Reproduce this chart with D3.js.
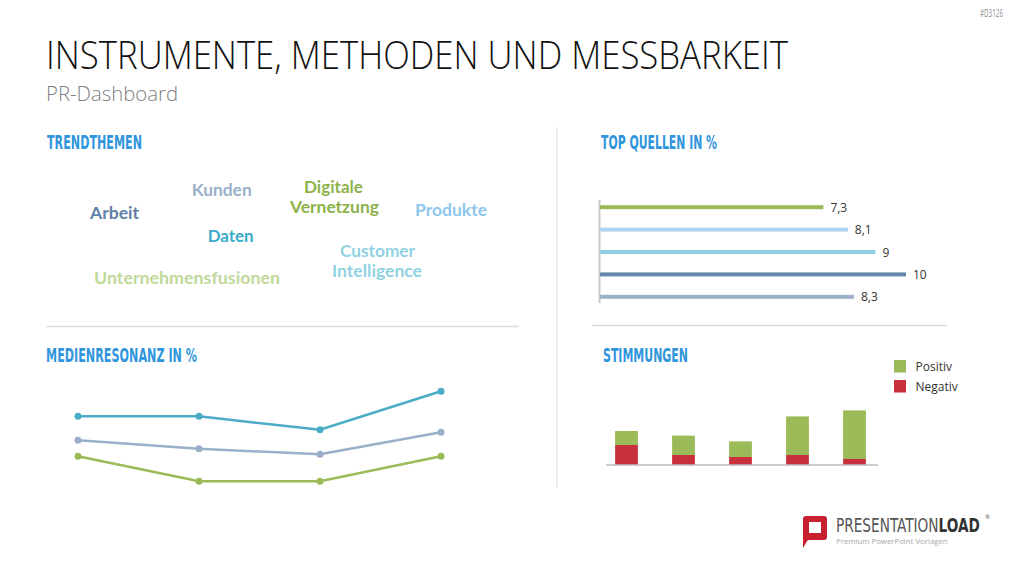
<!DOCTYPE html>
<html><head><meta charset="utf-8">
<script src="https://cdn.jsdelivr.net/npm/d3@7"></script>
<style>html,body{margin:0;padding:0;background:#fff;}svg{display:block;}</style>
</head><body>
<svg id="c" width="1024" height="576"></svg>
<script>
// ---- data ----
const trendWords = ["Kunden","Digitale","Vernetzung","Arbeit","Produkte","Daten","Customer","Intelligence","Unternehmensfusionen"];
const trendColors = ["#9aafc9","#8db24a","#8db24a","#5f7fa6","#8ec6ec","#3aaacb","#8fd2e2","#8fd2e2","#bfd89b"];
const sourceValues = [7.3, 8.1, 9, 10, 8.3];
const sourceLabels = ["7,3","8,1","9","10","8,3"];
const sourceColors = ["#9bbb59","#acd4f1","#8ed0df","#6585aa","#9eafc8"];
const lineCategories = ["Q1","Q2","Q3","Q4"];
const lineTop = [28, 28, 25.3, 33];
const lineMid = [23.2, 21.5, 20.4, 24.8];
const lineLow = [20, 15, 15, 20];
const lineColors = ["#4bacc6","#9aafc9","#9bbb59"];
const moodCategories = ["A","B","C","D","E"];
const moodNegative = [10, 5, 4, 5, 3];
const moodPositive = [7, 9.7, 7.8, 19.3, 24.3];
const moodLegend = ["Positiv","Negativ"];
const moodColors = ["#9bbb59","#c9303e"];

const svg = d3.select("#c");
const blue = "#2f95dd";
const titleFont = "'Liberation Sans Narrow','DejaVu Sans Condensed',sans-serif";

function fitText(x, y, txt, len, size, opts) {
  opts = opts || {};
  return svg.append("text").attr("x", x).attr("y", y).text(txt)
    .attr("font-family", opts.family || "'Open Sans',sans-serif")
    .attr("font-size", size).attr("font-weight", opts.weight || 400)
    .attr("fill", opts.fill || "#000")
    .attr("textLength", len).attr("lengthAdjust", "spacingAndGlyphs");
}

// header
fitText(46, 69, "INSTRUMENTE, METHODEN UND MESSBARKEIT", 742, 38, {family:"'Open Sans',sans-serif", weight:300, fill:"#111"});
fitText(46, 101, "PR-Dashboard", 132, 21, {weight:300, fill:"#808080"});
fitText(980, 17, "#D3126", 23, 10, {fill:"#8a8a8a"});

// section titles
fitText(47, 149, "TRENDTHEMEN", 95, 20, {family:titleFont, weight:700, fill:blue});
fitText(601, 149, "TOP QUELLEN IN %", 116, 20, {family:titleFont, weight:700, fill:blue});
fitText(46, 362, "MEDIENRESONANZ  IN %", 151, 20, {family:titleFont, weight:700, fill:blue});
fitText(603, 362, "STIMMUNGEN", 85, 20, {family:titleFont, weight:700, fill:blue});

// dividers
svg.append("line").attr("x1",557).attr("x2",557).attr("y1",127).attr("y2",488).attr("stroke","#dcdcdc").attr("stroke-width",1);
svg.append("line").attr("x1",46).attr("x2",519).attr("y1",326.5).attr("y2",326.5).attr("stroke","#dcdcdc").attr("stroke-width",1.5);
svg.append("line").attr("x1",592).attr("x2",947).attr("y1",325.5).attr("y2",325.5).attr("stroke","#dcdcdc").attr("stroke-width",1.5);

// word cloud
const wordPos = [[191.7,196,60],[304,193,59],[290,213,89],[90,219,49],[415,215.7,72],[207.7,241.7,46],[340,257,75],[332,277,90],[94,284,186]];
trendWords.forEach((w,i)=>{
  const p = wordPos[i];
  fitText(p[0], p[1], w, p[2], 17.5, {family:"Lato,'Open Sans',sans-serif", weight:700, fill:trendColors[i]});
});

// horizontal bar chart
const xS = d3.scaleLinear().domain([0,10]).range([600,906]);
const yS = d3.scaleBand().domain(d3.range(sourceValues.length)).range([196,308]);
svg.append("line").attr("x1",599.5).attr("x2",599.5).attr("y1",200).attr("y2",303).attr("stroke","#c8c8c8").attr("stroke-width",2);
sourceValues.forEach((v,i)=>{
  const yc = yS(i)+yS.bandwidth()/2;
  svg.append("rect").attr("x",xS(0)).attr("y",yc-2).attr("width",xS(v)-xS(0)).attr("height",4).attr("fill",sourceColors[i]);
  svg.append("text").attr("x",xS(v)+7).attr("y",yc+4.5).text(sourceLabels[i])
    .attr("font-family","'Open Sans',sans-serif").attr("font-size",12).attr("fill","#333");
});

// line chart
const lx = d3.scalePoint().domain(lineCategories).range([78,441]);
const ly = d3.scaleLinear().domain([15,35]).range([481.3,381.3]);
const line = d3.line().x((d,i)=>lx(lineCategories[i])).y(d=>ly(d));
[lineTop,lineMid,lineLow].forEach((s,k)=>{
  svg.append("path").attr("d",line(s)).attr("fill","none").attr("stroke",lineColors[k]).attr("stroke-width",2.5);
  s.forEach((v,i)=>svg.append("circle").attr("cx",lx(lineCategories[i])).attr("cy",ly(v)).attr("r",3.5).attr("fill",lineColors[k]));
});

// stacked bar chart
const bx = d3.scaleBand().domain(moodCategories).range([598,883]).paddingInner(0.6).paddingOuter(0.3);
const by = d3.scaleLinear().domain([0,30]).range([465,405]);
moodCategories.forEach((c,i)=>{
  const n = moodNegative[i], p = moodPositive[i];
  svg.append("rect").attr("x",bx(c)).attr("width",bx.bandwidth()).attr("y",by(n)).attr("height",by(0)-by(n)).attr("fill",moodColors[1]);
  svg.append("rect").attr("x",bx(c)).attr("width",bx.bandwidth()).attr("y",by(n+p)).attr("height",by(n)-by(n+p)).attr("fill",moodColors[0]);
});
svg.append("line").attr("x1",606).attr("x2",878).attr("y1",465).attr("y2",465).attr("stroke","#bdbdbd").attr("stroke-width",1.5);
moodLegend.forEach((t,i)=>{
  svg.append("rect").attr("x",894).attr("y",360+i*20).attr("width",12).attr("height",12.5).attr("fill",moodColors[i]);
  svg.append("text").attr("x",915.5).attr("y",370.5+i*20).text(t).attr("font-family","'Open Sans',sans-serif").attr("font-size",12).attr("fill","#333");
});

// logo
const g = svg.append("g");
g.append("path").attr("d","M806,516 H824 Q827,516 827,519 V537 Q827,540 824,540 H809 Q807,540 806,543 L803,548 V519 Q803,516 806,516 Z").attr("fill","#c8202f");
g.append("rect").attr("x",809).attr("y",522).attr("width",12).attr("height",11).attr("fill","#fff");
const logo = svg.append("text").attr("transform","translate(836,532) scale(0.95,1.18)")
  .attr("font-family",titleFont).attr("font-size",16);
logo.append("tspan").text("PRESENTATION").attr("fill","#555");
logo.append("tspan").text("LOAD").attr("fill","#333").attr("font-weight",700);
svg.append("text").attr("x",985).attr("y",519).text("®").attr("font-family","'Open Sans',sans-serif").attr("font-size",6).attr("fill","#555");
svg.append("text").attr("x",836).attr("y",544).text("Premium PowerPoint Vorlagen")
  .attr("font-family","'Open Sans',sans-serif").attr("font-size",7.8).attr("fill","#a8a8a8");
</script>
</body></html>
